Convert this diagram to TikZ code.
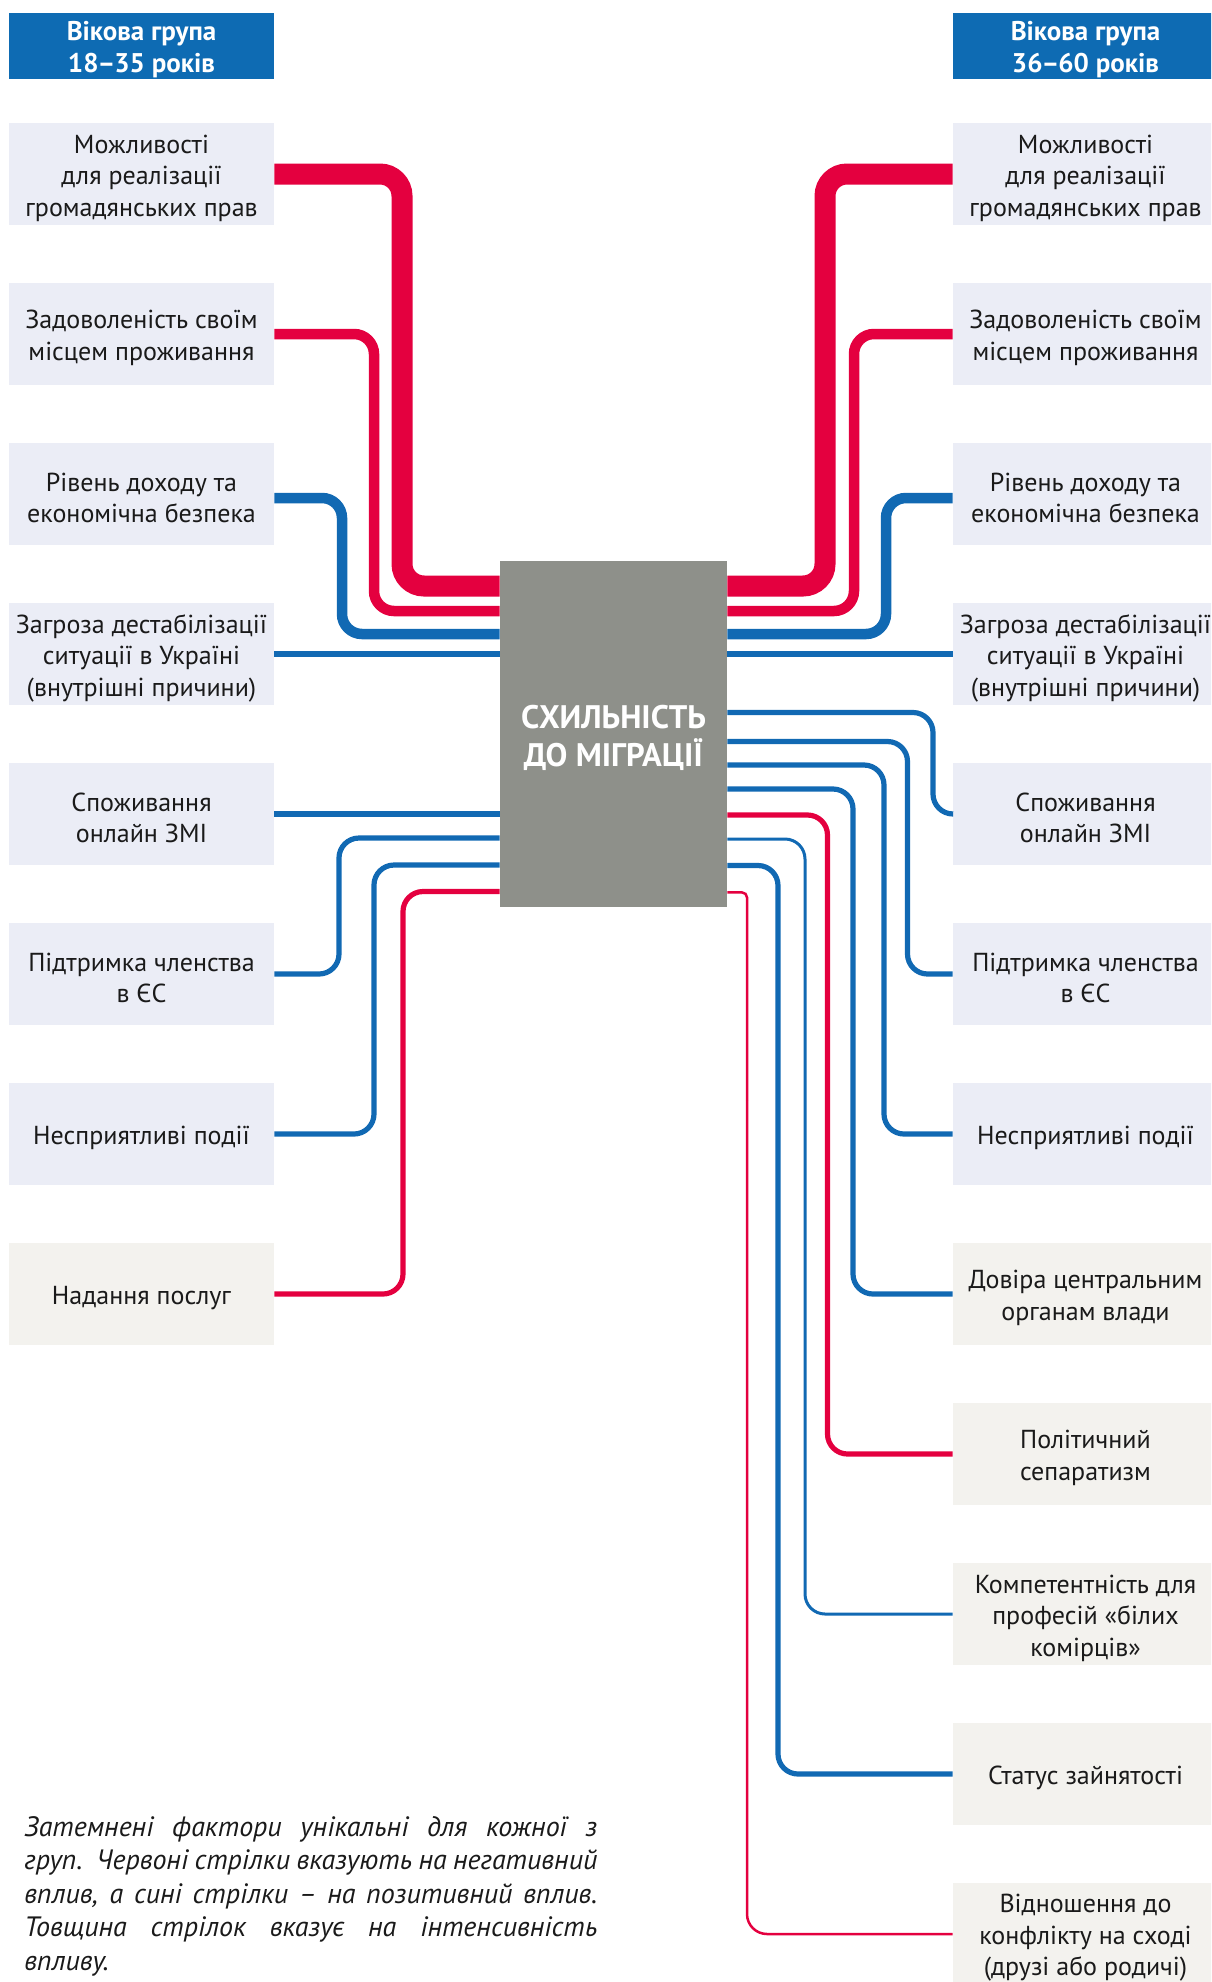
\documentclass[tikz,border=0pt]{standalone}
\usepackage{fontspec}
\setmainfont{PT Sans}
\definecolor{hdrblue}{HTML}{0E6BB3}
\definecolor{boxbl}{HTML}{EBEDF6}
\definecolor{boxbg}{HTML}{F3F2EE}
\definecolor{lred}{HTML}{E4003F}
\definecolor{lblue}{HTML}{1169B3}
\definecolor{gbox}{HTML}{8E908A}
\definecolor{txt}{HTML}{1A1A1A}
\newcommand\jline[1]{\leavevmode\hbox to 286.5pt{\spaceskip=0.26em plus 3em minus 0.06em\relax #1}}
\tikzset{
  fbox/.style={fill=boxbl, minimum width=132.5pt, minimum height=51pt, inner sep=0pt},
  ubox/.style={fbox, fill=boxbg},
  btxt/.style={align=center, text=txt, inner sep=0pt, yshift=-2pt,
    font=\fontsize{13}{15.75}\selectfont},
  hbox/.style={fill=hdrblue, minimum width=132.5pt, minimum height=33.25pt, inner sep=0pt},
  htxt/.style={align=center, text=white, inner sep=0pt, yshift=-2pt,
    font=\bfseries\fontsize{13.5}{16}\selectfont},
  gbx/.style={fill=gbox, minimum width=113.5pt, minimum height=173pt, inner sep=0pt},
  gtxt/.style={align=center, text=white, inner sep=0pt, yshift=-2pt,
    font=\bfseries\fontsize{16.3}{19.2}\selectfont},
  thickln/.style={line width=10.5pt, rounded corners=11pt},
  medln/.style={line width=5.25pt, rounded corners=10pt},
  thinln/.style={line width=2.6pt, rounded corners=10pt},
  hairln/.style={line width=1.5pt, rounded corners=10pt},
}
\begin{document}
\begin{tikzpicture}[x=0.5pt,y=-0.5pt]
\useasboundingbox (0,0) rectangle (1211,1982);
\clip (0,0) rectangle (1211,1982);

% headers
\node[hbox, label={[htxt]center:{Вікова група\\18\kern-0.5pt–\kern-0.5pt35 років}}] (hl) at (141.5,46) {};
\node[hbox, label={[htxt]center:{Вікова група\\36\kern-0.5pt–\kern-0.5pt60 років}}] (hr) at (1085.5,46) {};

% left boxes
\node[fbox, label={[btxt]center:{Можливості\\для реалізації\\громадянських прав}}] (lb1) at (141.5,174) {};
\node[fbox, label={[btxt]center:{Задоволеність своїм\\місцем проживання}}] (lb2) at (141.5,334) {};
\node[fbox, label={[btxt]center:{Рівень доходу та\\економічна безпека}}] (lb3) at (141.5,494) {};
\node[fbox, label={[btxt]center:{Загроза дестабілізації\\ситуації в Україні\\(внутрішні причини)}}] (lb4) at (141.5,654) {};
\node[fbox, label={[btxt]center:{Споживання\\онлайн ЗМІ}}] (lb5) at (141.5,814) {};
\node[fbox, label={[btxt]center:{Підтримка членства\\в ЄС}}] (lb6) at (141.5,974) {};
\node[fbox, label={[btxt]center:{Несприятливі події}}] (lb7) at (141.5,1134) {};
\node[ubox, label={[btxt]center:{Надання послуг}}] (lb8) at (141.5,1294) {};

% right boxes
\node[fbox, label={[btxt]center:{Можливості\\для реалізації\\громадянських прав}}] (rb1) at (1085.5,174) {};
\node[fbox, label={[btxt]center:{Задоволеність своїм\\місцем проживання}}] (rb2) at (1085.5,334) {};
\node[fbox, label={[btxt]center:{Рівень доходу та\\економічна безпека}}] (rb3) at (1085.5,494) {};
\node[fbox, label={[btxt]center:{Загроза дестабілізації\\ситуації в Україні\\(внутрішні причини)}}] (rb4) at (1085.5,654) {};
\node[fbox, label={[btxt]center:{Споживання\\онлайн ЗМІ}}] (rb5) at (1085.5,814) {};
\node[fbox, label={[btxt]center:{Підтримка членства\\в ЄС}}] (rb6) at (1085.5,974) {};
\node[fbox, label={[btxt]center:{Несприятливі події}}] (rb7) at (1085.5,1134) {};
\node[ubox, label={[btxt]center:{Довіра центральним\\органам влади}}] (rb8) at (1085.5,1294) {};
\node[ubox, label={[btxt]center:{Політичний\\сепаратизм}}] (rb9) at (1085.5,1454) {};
\node[ubox, label={[btxt]center:{Компетентність для\\професій «білих\\комірців»}}] (rb10) at (1085.5,1614) {};
\node[ubox, label={[btxt]center:{Статус зайнятості}}] (rb11) at (1085.5,1774) {};
\node[ubox, label={[btxt]center:{Відношення до\\конфлікту на сході\\(друзі або родичі)}}] (rb12) at (1085.5,1934) {};

% centre
\node[gbx, label={[gtxt]center:{СХИЛЬНІСТЬ\\ДО МІГРАЦІЇ}}] (gray) at (613.5,734) {};

% left connectors
\draw[lred, thickln] (lb1.east) -| (402,586) -- (gray.west |- 0,586);
\draw[lred, medln] (lb2.east) -| (374,611) -- (gray.west |- 0,611);
\draw[lblue, medln] ([yshift=-2pt]lb3.east) -| (342,634) -- (gray.west |- 0,634);
\draw[lblue, thinln] (lb4.east) -- (gray.west |- lb4.east);
\draw[lblue, thinln] (lb5.east) -- (gray.west |- lb5.east);
\draw[lblue, thinln] (lb6.east) -| (339,838) -- (gray.west |- 0,838);
\draw[lblue, thinln] (lb7.east) -| (374,865) -- (gray.west |- 0,865);
\draw[lred, thinln] (lb8.east) -| (403,891.5) -- (gray.west |- 0,891.5);

% right connectors
\draw[lred, thickln] (rb1.west) -| (825,586) -- (gray.east |- 0,586);
\draw[lred, medln] (rb2.west) -| (854,611) -- (gray.east |- 0,611);
\draw[lblue, medln] ([yshift=-2pt]rb3.west) -| (886,634) -- (gray.east |- 0,634);
\draw[lblue, thinln] (rb4.west) -- (gray.east |- rb4.west);
\draw[lblue, thinln] (rb5.west) -| (933,712.5) -- (gray.east |- 0,712.5);
\draw[lblue, thinln] (rb6.west) -| (907.5,741.5) -- (gray.east |- 0,741.5);
\draw[lblue, thinln] (rb7.west) -| (884,765) -- (gray.east |- 0,765);
\draw[lblue, thinln] (rb8.west) -| (853,789) -- (gray.east |- 0,789);
\draw[lred, thinln] (rb9.west) -| (827.5,815) -- (gray.east |- 0,815);
\draw[lblue, hairln] (rb10.west) -| (805,839) -- (gray.east |- 0,839);
\draw[lblue, thinln] (rb11.west) -| (778,865.5) -- (gray.east |- 0,865.5);
\coordinate (r12m) at (747,1100);
\draw[lred, line width=1.25pt, rounded corners=10pt] (rb12.west) -| (r12m);
\draw[lred, line width=1.25pt, rounded corners=2.5pt] (r12m) |- (gray.east |- 0,892.4);

% note
\node[anchor=north west, inner sep=0pt, text width=286.5pt, align=left, text=txt,
  font=\itshape\fontsize{14}{16.75}\selectfont] (note) at (24,1816)
  {\jline{Затемнені фактори унікальні для кожної з}\\
   \jline{груп. Червоні стрілки вказують на негативний}\\
   \jline{вплив, а сині стрілки – на позитивний вплив.}\\
   \jline{Товщина стрілок вказує на інтенсивність}\\
   впливу.};
\end{tikzpicture}
\end{document}
